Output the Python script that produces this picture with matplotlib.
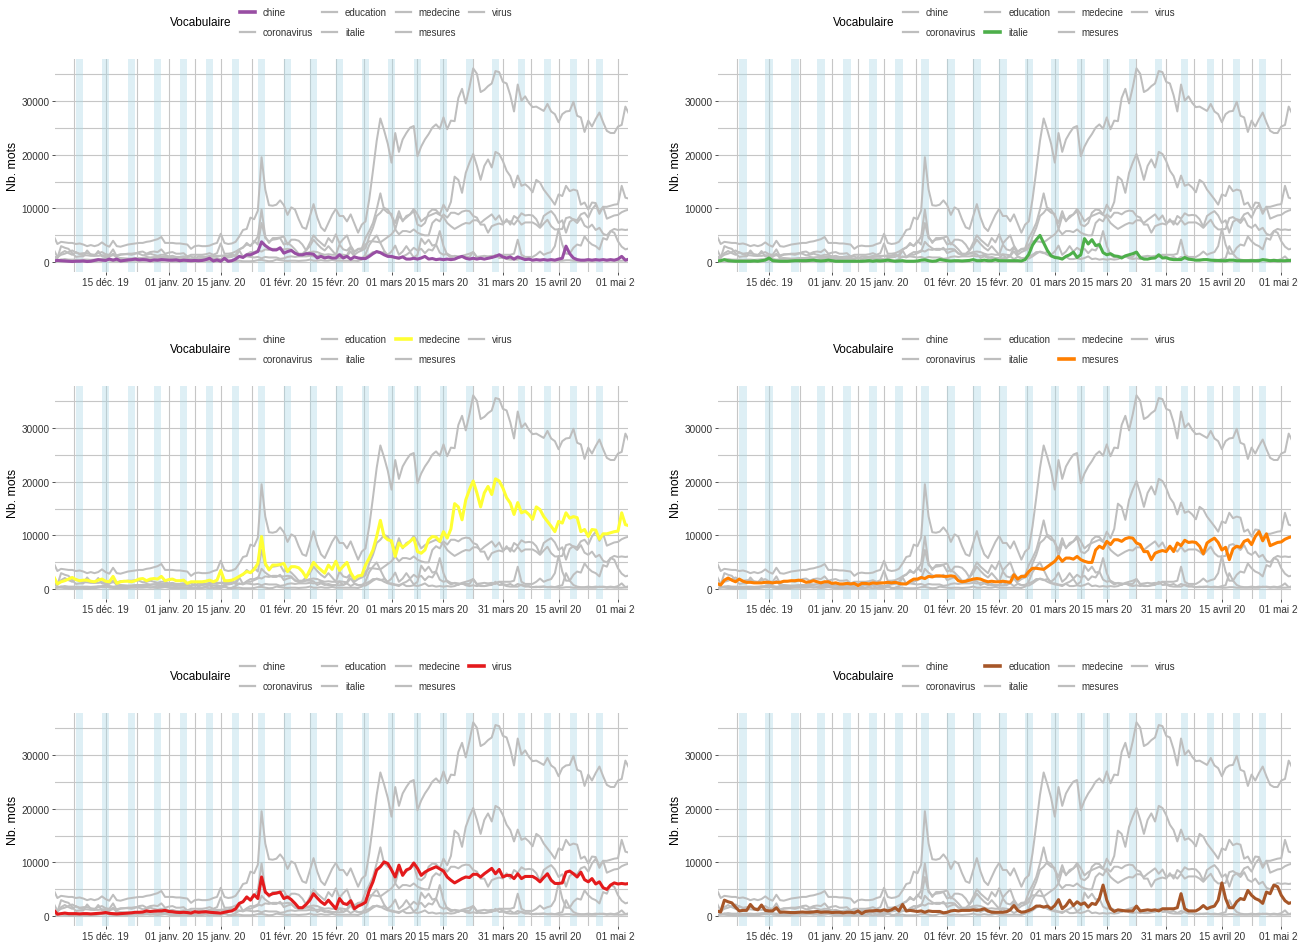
import matplotlib
matplotlib.use("Agg")
import matplotlib.pyplot as plt
import matplotlib.dates as mdates
from matplotlib.lines import Line2D
from matplotlib.transforms import Bbox, TransformedBbox
import numpy as np
import pandas as pd

plt.rcParams['font.family'] = ['Liberation Sans', 'DejaVu Sans']

# one value per day, 1 Dec 2019 -> 4 May 2020, in thousands of words
days = pd.date_range('2019-12-01', '2020-05-04', freq='D')

chine = [0.25, 0.35, 0.3, 0.25, 0.2, 0.15, 0.2, 0.2, 0.25, 0.15,
         0.2, 0.35, 0.5, 0.4, 0.35, 0.6, 0.4, 0.6, 0.25, 0.35,
         0.45, 0.5, 0.6, 0.45, 0.5, 0.45, 0.3, 0.45, 0.4, 0.5,
         0.45, 0.4, 0.4, 0.45, 0.3, 0.4, 0.35, 0.3, 0.35, 0.3,
         0.35, 0.5, 0.75, 0.25, 0.45, 0.2, 0.75, 0.2, 0.3, 0.6,
         1.1, 0.9, 1.4, 1.4, 1.7, 2.0, 3.8, 3.1, 2.6, 2.3,
         2.3, 2.7, 1.7, 2.0, 2.2, 1.7, 1.4, 1.4, 1.6, 1.6,
         1.5, 0.8, 1.1, 0.8, 1.0, 0.8, 0.8, 1.4, 0.8, 1.1,
         0.6, 1.0, 0.8, 0.7, 0.7, 1.1, 1.6, 2.0, 1.8, 1.4,
         1.1, 1.1, 0.9, 0.8, 1.0, 0.6, 0.6, 0.75, 0.6, 0.8,
         1.1, 0.6, 0.7, 0.5, 0.6, 0.5, 0.6, 0.5, 0.6, 0.9,
         1.1, 0.75, 0.6, 0.75, 0.6, 0.75, 0.6, 0.75, 0.9, 1.1,
         1.4, 1.0, 0.8, 1.0, 0.6, 1.0, 0.75, 0.5, 0.6, 0.4,
         0.5, 0.4, 0.5, 0.4, 0.5, 0.4, 0.6, 0.75, 3.0, 1.6,
         0.8, 0.5, 0.4, 0.4, 0.5, 0.4, 0.5, 0.4, 0.5, 0.4,
         0.5, 0.4, 0.6, 1.1, 0.4, 0.6]

coronavirus = [4.9, 3.4, 3.8, 3.7, 3.6, 3.6, 3.4, 3.5, 3.3, 3.0,
               3.2, 3.0, 3.2, 3.7, 3.2, 2.9, 4.0, 3.0, 2.9, 3.1,
               3.3, 3.4, 3.5, 3.6, 3.6, 3.8, 3.9, 4.1, 4.3, 4.7,
               3.6, 3.6, 3.6, 3.5, 3.5, 3.4, 3.3, 2.5, 3.0, 3.1,
               3.0, 3.0, 3.1, 3.4, 3.6, 5.3, 3.6, 3.4, 3.5, 3.8,
               4.8, 6.0, 6.2, 8.3, 8.0, 9.6, 19.5, 13.5, 10.6, 10.5,
               10.7, 11.5, 10.6, 8.8, 10.2, 9.8, 8.0, 6.5, 6.2, 8.5,
               10.8, 8.3, 6.5, 5.8, 7.3, 8.8, 9.9, 8.6, 8.6, 7.6,
               8.9, 7.2, 5.5, 7.0, 7.6, 11.7, 17.0, 22.5, 26.7, 24.5,
               22.0, 18.5, 24.0, 20.5, 22.8, 24.0, 25.0, 25.3, 19.7, 21.5,
               22.8, 23.8, 25.0, 25.6, 24.8, 26.9, 24.7, 26.3, 26.2, 30.5,
               32.2, 29.5, 32.5, 36.0, 35.0, 31.6, 32.0, 32.7, 33.2, 35.5,
               35.3, 33.5, 33.2, 31.0, 28.0, 33.0, 30.0, 30.8, 29.6, 28.8,
               28.9, 28.5, 28.1, 29.4, 28.0, 27.5, 26.0, 27.5, 28.0, 28.1,
               29.8, 27.2, 26.9, 24.2, 26.3, 25.2, 26.6, 27.8, 26.0, 24.4,
               24.0, 24.0, 25.2, 25.5, 28.9, 27.5]

education = [1.0, 0.8, 3.0, 2.7, 2.5, 1.7, 1.0, 1.1, 1.1, 2.2,
             1.4, 1.2, 2.1, 1.1, 1.0, 1.0, 1.6, 0.75, 0.8, 0.75,
             0.7, 0.7, 0.75, 0.8, 0.75, 0.75, 0.8, 0.9, 0.75, 0.8,
             0.8, 0.7, 0.75, 0.75, 0.65, 0.75, 0.75, 0.65, 1.0, 0.5,
             0.9, 1.0, 1.0, 1.1, 1.0, 1.2, 1.0, 1.2, 1.6, 1.0,
             2.2, 1.0, 1.1, 1.0, 0.9, 1.0, 0.75, 1.0, 0.9, 0.9,
             0.9, 0.65, 0.75, 1.0, 1.1, 1.0, 1.1, 1.1, 1.1, 1.2,
             1.1, 1.2, 1.4, 1.0, 0.75, 0.75, 0.75, 0.75, 0.85, 1.2,
             2.0, 1.1, 0.75, 0.85, 1.1, 1.4, 1.9, 1.9, 1.7, 1.9,
             1.4, 2.0, 3.1, 1.4, 2.0, 3.0, 2.0, 2.7, 2.2, 2.5,
             1.7, 2.4, 2.2, 3.3, 5.8, 3.0, 1.4, 0.9, 1.2, 1.1,
             1.0, 1.0, 1.0, 1.9, 1.0, 1.1, 1.2, 1.1, 1.2, 1.0,
             1.4, 1.4, 1.4, 1.4, 1.6, 4.2, 1.4, 1.0, 1.0, 1.0,
             1.4, 2.0, 1.4, 1.7, 1.9, 3.0, 6.2, 3.3, 1.6, 1.6,
             2.7, 3.3, 3.1, 4.8, 3.9, 3.3, 3.0, 2.4, 4.5, 4.2,
             5.8, 5.5, 3.9, 2.9, 2.4, 2.6]

italie = [0.25, 0.3, 0.5, 0.3, 0.25, 0.2, 0.2, 0.2, 0.2, 0.2,
          0.25, 0.2, 0.3, 0.4, 0.8, 0.3, 0.25, 0.2, 0.2, 0.2,
          0.25, 0.3, 0.3, 0.3, 0.3, 0.35, 0.4, 0.3, 0.25, 0.3,
          0.4, 0.3, 0.2, 0.2, 0.2, 0.2, 0.2, 0.2, 0.2, 0.2,
          0.25, 0.3, 0.2, 0.3, 0.25, 0.3, 0.4, 0.3, 0.2, 0.25,
          0.3, 0.2, 0.2, 0.2, 0.25, 0.4, 0.45, 0.3, 0.2, 0.25,
          0.5, 0.4, 0.3, 0.25, 0.3, 0.3, 0.25, 0.3, 0.35, 0.5,
          0.3, 0.3, 0.4, 0.3, 0.3, 0.45, 0.3, 0.3, 0.3, 0.3,
          0.3, 0.3, 0.25, 0.5, 1.5, 3.2, 4.2, 5.0, 3.6, 2.2,
          1.2, 0.9, 0.8, 0.6, 1.1, 1.4, 1.9, 0.9, 1.4, 4.4,
          3.4, 4.2, 3.1, 3.3, 1.8, 1.4, 1.6, 1.2, 1.1, 0.8,
          1.2, 1.4, 1.6, 1.9, 0.9, 0.6, 0.6, 0.75, 0.8, 1.4,
          0.8, 0.85, 0.6, 0.5, 0.5, 0.5, 0.9, 0.6, 0.5, 0.4,
          0.4, 0.5, 0.5, 0.4, 0.35, 0.35, 0.3, 0.3, 0.4, 0.4,
          0.3, 0.3, 0.3, 0.3, 0.3, 0.3, 0.3, 0.5, 0.4, 0.3,
          0.35, 0.3, 0.3, 0.3, 0.35, 0.35]

medecine = [2.4, 1.0, 1.4, 1.6, 1.9, 2.2, 1.8, 1.6, 1.7, 1.7,
            1.5, 1.4, 1.7, 1.9, 1.5, 1.4, 2.4, 1.1, 1.4, 1.5,
            1.5, 1.4, 1.6, 1.9, 2.0, 1.6, 1.9, 2.0, 1.9, 2.4,
            1.6, 1.8, 1.9, 1.6, 1.6, 1.7, 1.1, 1.4, 1.4, 1.4,
            1.4, 1.5, 1.7, 1.4, 1.7, 3.5, 1.6, 1.6, 1.7, 2.0,
            2.4, 2.8, 3.3, 3.1, 3.7, 4.8, 9.8, 4.8, 3.6, 4.5,
            4.5, 4.6, 4.8, 3.3, 4.2, 4.2, 4.0, 3.3, 2.2, 3.6,
            5.0, 4.2, 3.6, 3.0, 4.5, 3.7, 5.2, 3.5, 4.3, 5.0,
            3.1, 2.0, 2.5, 2.6, 4.5, 5.8, 7.3, 9.8, 12.8, 9.8,
            9.2, 9.0, 6.1, 8.6, 7.8, 8.3, 8.9, 9.5, 7.0, 6.7,
            7.3, 9.2, 9.8, 9.7, 8.9, 10.7, 9.5, 11.2, 15.9, 15.3,
            12.9, 16.6, 18.5, 20.1, 17.9, 15.3, 17.9, 19.1, 17.6, 20.5,
            20.1, 18.8, 17.0, 16.0, 13.9, 16.1, 14.2, 14.5, 13.9, 13.0,
            15.3, 14.8, 13.5, 12.6, 11.7, 10.7, 12.6, 12.3, 14.2, 13.2,
            13.5, 13.3, 10.7, 11.1, 9.8, 11.1, 11.0, 9.3, 10.3, 10.3,
            10.5, 10.7, 10.8, 14.2, 12.0, 11.8]

mesures = [1.1, 0.8, 1.7, 2.1, 1.7, 1.4, 1.9, 1.5, 1.3, 1.3,
           1.2, 1.2, 1.2, 1.3, 1.3, 1.2, 1.3, 1.3, 1.5, 1.5,
           1.6, 1.6, 1.7, 1.6, 1.3, 1.4, 1.6, 1.4, 1.2, 1.4,
           1.4, 1.1, 1.2, 1.0, 1.0, 1.1, 1.0, 1.1, 0.7, 1.1,
           1.1, 1.0, 1.2, 1.1, 1.2, 1.2, 1.3, 1.2, 1.3, 1.1,
           1.0, 1.0, 1.5, 1.9, 1.9, 2.2, 2.0, 2.4, 2.3, 2.5,
           2.5, 2.4, 2.4, 2.5, 2.4, 1.6, 1.4, 1.5, 1.7, 1.9,
           2.0, 1.9, 1.6, 1.4, 1.5, 1.4, 1.4, 1.5, 1.4, 1.3,
           2.7, 1.9, 2.4, 2.4, 3.3, 3.9, 3.9, 3.8, 3.7, 4.2,
           4.7, 5.2, 6.1, 5.2, 5.8, 5.8, 5.6, 6.1, 5.5, 5.2,
           5.0, 5.0, 7.3, 8.0, 7.6, 8.9, 8.3, 9.2, 9.2, 8.9,
           9.4, 9.6, 9.5, 8.6, 8.3, 7.0, 7.0, 5.5, 6.7, 7.0,
           7.2, 7.0, 8.0, 7.0, 8.6, 8.1, 9.1, 8.7, 8.8, 8.7,
           8.0, 6.6, 8.6, 9.1, 9.5, 8.7, 7.3, 7.8, 5.5, 7.5,
           8.0, 7.8, 8.9, 9.2, 8.3, 9.8, 10.7, 9.0, 10.3, 8.1,
           8.4, 8.7, 8.8, 9.3, 9.6, 9.8]

virus = [1.2, 0.4, 0.5, 0.6, 0.5, 0.5, 0.5, 0.45, 0.5, 0.5,
         0.45, 0.5, 0.55, 0.6, 0.7, 0.55, 0.5, 0.45, 0.5, 0.55,
         0.6, 0.65, 0.75, 0.75, 0.8, 1.0, 0.9, 0.95, 1.0, 1.0,
         1.1, 0.9, 0.85, 0.75, 0.7, 0.75, 0.7, 0.6, 0.85, 0.75,
         0.8, 0.85, 0.75, 0.7, 0.65, 0.6, 0.75, 0.9, 1.0, 1.4,
         2.4, 2.7, 3.6, 3.0, 4.0, 3.3, 7.3, 4.5, 3.9, 4.2,
         4.3, 4.5, 3.3, 3.6, 3.1, 2.4, 1.6, 1.6, 2.2, 3.0,
         4.2, 3.4, 2.7, 2.2, 3.0, 2.2, 1.4, 3.3, 2.4, 2.2,
         2.9, 1.4, 1.9, 2.2, 2.6, 4.8, 6.4, 8.6, 9.2, 10.1,
         9.8, 8.6, 7.3, 9.5, 7.6, 8.6, 8.9, 9.9, 8.9, 7.6,
         8.2, 8.6, 8.9, 9.2, 8.8, 8.4, 7.3, 6.7, 6.2, 6.6,
         7.0, 7.3, 7.2, 7.8, 7.8, 7.3, 7.9, 8.4, 8.9, 7.9,
         8.7, 7.3, 7.6, 7.6, 7.0, 7.9, 7.0, 7.4, 7.4, 7.4,
         7.0, 6.4, 7.2, 7.9, 6.7, 6.1, 6.1, 6.2, 8.2, 8.4,
         7.9, 7.3, 8.2, 6.8, 6.4, 7.0, 6.0, 6.4, 5.3, 5.0,
         5.8, 6.2, 6.0, 6.1, 6.0, 6.1]

vocab = ['chine', 'coronavirus', 'education', 'italie', 'medecine', 'mesures', 'virus']
series = {'chine': chine, 'coronavirus': coronavirus, 'education': education,
          'italie': italie, 'medecine': medecine, 'mesures': mesures, 'virus': virus}
colors = {'chine': '#984EA3', 'italie': '#4DAF4A', 'medecine': '#FFFF33',
          'mesures': '#FF7F00', 'virus': '#E41A1C', 'education': '#A65628'}
# (highlighted word, row, column)
panels = [('chine', 0, 0), ('italie', 0, 1), ('medecine', 1, 0),
          ('mesures', 1, 1), ('virus', 2, 0), ('education', 2, 1)]

tick_dates = pd.to_datetime(['2019-12-15', '2020-01-01', '2020-01-15', '2020-02-01',
                             '2020-02-15', '2020-03-01', '2020-03-15', '2020-03-31',
                             '2020-04-15', '2020-05-01'])
tick_labels = ['15 déc. 19', '01 janv. 20', '15 janv. 20', '01 févr. 20', '15 févr. 20',
               '01 mars 20', '15 mars 20', '31 mars 20', '15 avril 20', '01 mai 20']
saturdays = pd.date_range('2019-12-07', '2020-04-25', freq='7D')

W, H = 1311, 945
GRID = '#c6c6c6'
GREY = '#bebebe'
TXT = '#333333'

fig = plt.figure(figsize=(W / 100, H / 100), dpi=100)

def fx(px):
    return px / W

def fy(py):
    return 1 - py / H

xd = mdates.date2num(days)
t0 = mdates.date2num(pd.Timestamp('2019-12-01'))
xmaj = mdates.date2num(tick_dates)
xminor = [t0 + 5.5] + [(a + b) / 2 for a, b in zip(xmaj[:-1], xmaj[1:])]

for name, r, c in panels:
    left = 55 if c == 0 else 718.3
    top = 60 + 327 * r
    pw, ph = 573, 213
    ax = fig.add_axes([fx(left), fy(top + ph), pw / W, ph / H])
    ax.set_xlim(t0 + 0.36, t0 + 154.7)
    ax.set_ylim(-1797, 37737)

    for v in range(0, 35001, 5000):
        ax.axhline(v, color=GRID, lw=0.8, zorder=0)
    for xv in xmaj:
        ax.axvline(xv, color=GRID, lw=0.8, zorder=0)
    for xv in xminor:
        ax.axvline(xv, color=GRID, lw=0.8, zorder=0)
    for s in saturdays:
        s0 = mdates.date2num(s)
        ax.axvspan(s0, s0 + 2, color='#add8e6', alpha=0.4, lw=0, zorder=1)

    for other in vocab:
        if other != name:
            ax.plot(xd, np.array(series[other]) * 1000, color=GREY, lw=1.45,
                    solid_joinstyle='round', zorder=2)
    ax.plot(xd, np.array(series[name]) * 1000, color=colors[name], lw=2.2,
            solid_joinstyle='round', zorder=3)

    for sp in ax.spines.values():
        sp.set_visible(False)
    ax.set_yticks([0, 10000, 20000, 30000])
    ax.set_yticklabels(['0', '10000', '20000', '30000'])
    ax.set_xticks(xmaj)
    ax.set_xticklabels(tick_labels)
    ax.tick_params(axis='both', length=2.2, width=0.6, color=TXT,
                   labelsize=7.2, labelcolor=TXT)
    ax.tick_params(axis='x', pad=1.5)
    ax.tick_params(axis='y', pad=1.8)
    # last date label is cut at the cell edge in the original
    last = ax.xaxis.get_major_ticks()[-1].label1
    clip = TransformedBbox(Bbox([[0, 0], [fx(left + pw + 7), 1]]), fig.transFigure)
    last.set_clip_box(clip)
    last.set_clip_on(True)

    fig.text(fx(left - 42), fy(top + ph / 2), 'Nb. mots', rotation=90,
             ha='center', va='center', fontsize=8.8, color='black')

    # legend above each panel
    ox = left - 55
    oy = 327 * r
    fig.text(fx(170 + ox), fy(23 + oy), 'Vocabulaire', ha='left', va='center',
             fontsize=8.5, color='black')
    key_x = [240, 322, 396, 469]
    lab_x = [262.7, 345, 418, 492]
    row_y = [13.3, 32.7]
    for i, word in enumerate(vocab):
        col, row = divmod(i, 2)
        y = row_y[row] + oy
        x0 = key_x[col] + ox
        hl = word == name
        fig.add_artist(Line2D([fx(x0), fx(x0 + 15)], [fy(y), fy(y)],
                              transform=fig.transFigure,
                              color=colors[word] if hl else GREY,
                              lw=2.6 if hl else 1.6))
        fig.text(fx(lab_x[col] + ox), fy(y), word, ha='left', va='center',
                 fontsize=7, color=TXT)

fig.savefig('out.png', dpi=100)
